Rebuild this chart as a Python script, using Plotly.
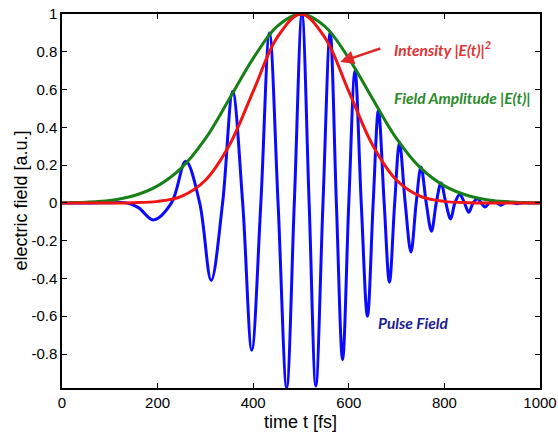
import plotly.graph_objects as go

# ---- data ----
# pulse field: estimated extrema and zero crossings (time in fs, field in a.u.)
field_t = [0, 60, 110, 135, 160, 191, 229, 259, 288, 312, 336, 357, 378, 397, 416, 434, 452, 470, 486,
           502, 517, 531, 546, 561, 574, 587, 600, 613, 626, 639, 651, 662, 674, 685, 696, 706, 718,
           730, 741, 751, 762, 773, 783, 793, 803, 813, 822, 832, 842, 851, 860, 869, 877, 885, 894,
           902, 910, 918, 927, 936, 944, 952, 962, 975, 1000]
field_v = [0, 0, 0.001, 0.0, -0.025, -0.09, 0.0, 0.22, 0.0, -0.41, 0.0, 0.59, 0.0, -0.78, 0.0, 0.90, 0.0, -0.98, 0.0,
           1.0, 0.0, -0.97, 0.0, 0.905, 0.0, -0.83, 0.0, 0.70, 0.0, -0.60, 0.0, 0.49, 0.0, -0.42, 0.0, 0.32, 0.0,
           -0.26, 0.0, 0.19, 0.0, -0.15, 0.0, 0.105, 0.0, -0.085, 0.0, 0.045, 0.0, -0.05, 0.0, 0.022, 0.0, -0.022, 0.0,
           0.01, 0.0, -0.012, 0.0, 0.004, 0.0, -0.004, 0.0, 0.0, 0.0]

# envelopes
env_t = [0, 50, 100, 150, 200, 250, 300, 350, 400, 450, 500, 550, 600, 650, 700, 750, 800, 850, 900, 950, 1000]
amplitude = [0.001, 0.004, 0.013, 0.038, 0.09, 0.185, 0.34, 0.55, 0.765, 0.935, 1.0, 0.935, 0.765, 0.55, 0.34,
             0.185, 0.09, 0.038, 0.013, 0.004, 0.001]
intensity = [0.0, 0.0, 0.0, 0.001, 0.008, 0.035, 0.12, 0.305, 0.59, 0.875, 1.0, 0.875, 0.59, 0.305, 0.12,
             0.035, 0.008, 0.001, 0.0, 0.0, 0.0]

x_ticks = [0, 200, 400, 600, 800, 1000]
x_tick_labels = ["0", "200", "400", "600", "800", "1000"]
y_ticks = [-0.8, -0.6, -0.4, -0.2, 0, 0.2, 0.4, 0.6, 0.8, 1]
y_tick_labels = ["-0.8", "-0.6", "-0.4", "-0.2", "0", "0.2", "0.4", "0.6", "0.8", "1"]

fig = go.Figure()
fig.add_trace(go.Scatter(x=field_t, y=field_v, mode="lines",
                         line=dict(color="#0a0aff", width=3, shape="spline", smoothing=1.0),
                         hoverinfo="skip"))
fig.add_trace(go.Scatter(x=env_t, y=amplitude, mode="lines",
                         line=dict(color="#168016", width=3, shape="spline", smoothing=1.0),
                         hoverinfo="skip"))
fig.add_trace(go.Scatter(x=env_t, y=intensity, mode="lines",
                         line=dict(color="#f01414", width=3, shape="spline", smoothing=1.0),
                         hoverinfo="skip"))

ann_font = "Lato"
ann_size = 15.5
fig.add_annotation(x=582, y=0.746, ax=669, ay=0.82, xref="x", yref="y", axref="x", ayref="y",
                   text="", showarrow=True, arrowhead=2, arrowsize=1.1, arrowwidth=2.5,
                   arrowcolor="#e02828")
fig.add_annotation(x=690, y=0.815, xref="x", yref="y", xanchor="left", yanchor="middle",
                   text="<b><i>Intensity |E(t)|<sup>2</sup></i></b>", showarrow=False,
                   font=dict(family=ann_font, size=ann_size, color="#e03232"))
fig.add_annotation(x=690, y=0.556, xref="x", yref="y", xanchor="left", yanchor="middle",
                   text="<b><i>Field Amplitude |E(t)|</i></b>", showarrow=False,
                   font=dict(family=ann_font, size=ann_size, color="#2a8a2a"))
fig.add_annotation(x=657, y=-0.635, xref="x", yref="y", xanchor="left", yanchor="middle",
                   text="<b><i>Pulse Field</i></b>", showarrow=False,
                   font=dict(family=ann_font, size=ann_size, color="#1e1e90"))

# axis titles
title_font = dict(family="Liberation Sans, Arial", size=18, color="black")
fig.add_annotation(x=0.498, y=-0.091, xref="paper", yref="paper", xanchor="center", yanchor="middle",
                   text="time t [fs]", showarrow=False, font=title_font)
fig.add_annotation(x=-0.0858, y=0.501, xref="paper", yref="paper", xanchor="center", yanchor="middle",
                   text="electric field [a.u.]", textangle=-90, showarrow=False, font=title_font)

axis_common = dict(showline=True, linecolor="black", linewidth=1.5, mirror="allticks",
                   ticks="inside", ticklen=5, tickwidth=1.2, tickcolor="black",
                   showgrid=False, zeroline=False, automargin=False,
                   tickfont=dict(family="Liberation Sans, Arial", size=15, color="black"))

fig.update_layout(
    width=558, height=432,
    margin=dict(l=62, r=18, t=14, b=44),
    paper_bgcolor="white", plot_bgcolor="white",
    showlegend=False,
    xaxis=dict(range=[0, 1000], tickvals=x_ticks, ticktext=x_tick_labels, **axis_common),
    yaxis=dict(range=[-0.98, 1], tickvals=y_ticks, ticktext=y_tick_labels, **axis_common),
)

fig.write_html("out.html", config={"displayModeBar": False},
               post_script="document.body.style.margin='0px';document.body.style.overflow='hidden';")
